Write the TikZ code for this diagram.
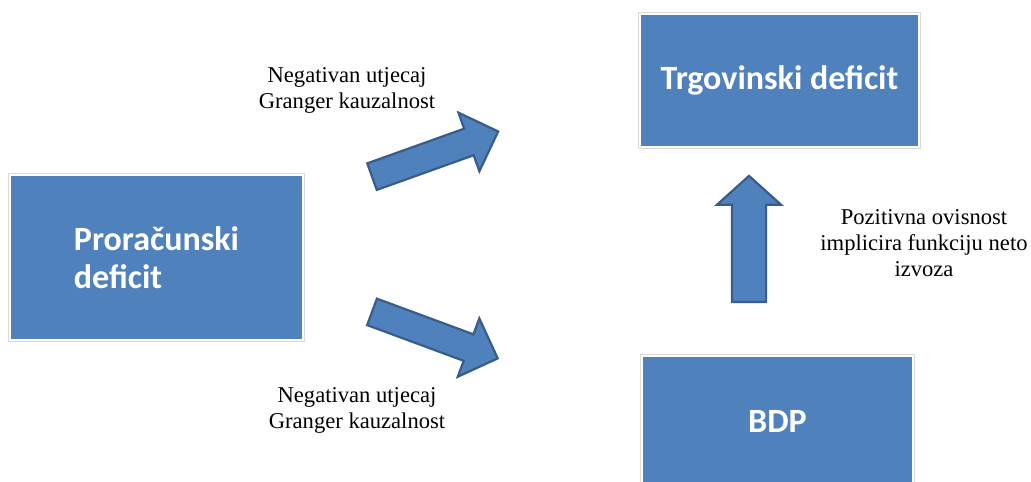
\documentclass[tikz,border=0pt]{standalone}
\usepackage{fontspec}
\setmainfont{Liberation Serif}
\newfontfamily\boxfont{Carlito}
\usetikzlibrary{shapes.arrows}
\definecolor{boxblue}{HTML}{4F81BD}
\definecolor{arrowedge}{HTML}{385D8A}
\begin{document}
\begin{tikzpicture}[x=0.5pt,y=-0.5pt]
        \tikzset{blockbox/.style={fill=boxblue,draw=white,line width=1pt,preaction={draw=black!15,line width=2.2pt},text=white,font=\boxfont\bfseries\fontsize{17}{19}\selectfont,align=left,inner sep=0pt},
                 fatarrow/.style={single arrow,fill=boxblue,draw=arrowedge,line width=1.1pt,inner xsep=0pt,inner ysep=6.5pt,single arrow head extend=8.5pt,anchor=tail},
                 note/.style={font=\fontsize{11.3}{13}\selectfont,align=center}};
        \clip (0,0) rectangle (1031,481);
        \fill[white] (0,0) rectangle (1031,481);
        % boxes
        \node[blockbox,minimum width=146.5pt,minimum height=82.5pt] (budget) at (156.5,257.5) {Proračunski\\deficit};
        \node[blockbox,minimum width=139.5pt,minimum height=66.5pt] (trade) at (779.5,80.5) {Trgovinski deficit};
        \node[blockbox,minimum width=135.5pt,minimum height=65.5pt] (gdp) at (777.5,421.5) {BDP};
        % block arrows
        \node[fatarrow,minimum height=67pt,rotate=19.7] (arrTop) at (371,177) {};
        \node[fatarrow,minimum height=67pt,rotate=-20.3] (arrBottom) at (371,311.5) {};
        \node[fatarrow,minimum height=63pt,inner ysep=8pt,single arrow head extend=7.5pt,single arrow tip angle=96,rotate=90] (arrUp) at (749,303) {};
        % notes
        \node[note] (topNote) at (347,90) {Negativan utjecaj\\Granger kauzalnost};
        \node[note] (bottomNote) at (357,410) {Negativan utjecaj\\Granger kauzalnost};
        \node[note] (rightNote) at (924,243.5) {Pozitivna ovisnost\\implicira funkciju neto\\izvoza};
\end{tikzpicture}
\end{document}
